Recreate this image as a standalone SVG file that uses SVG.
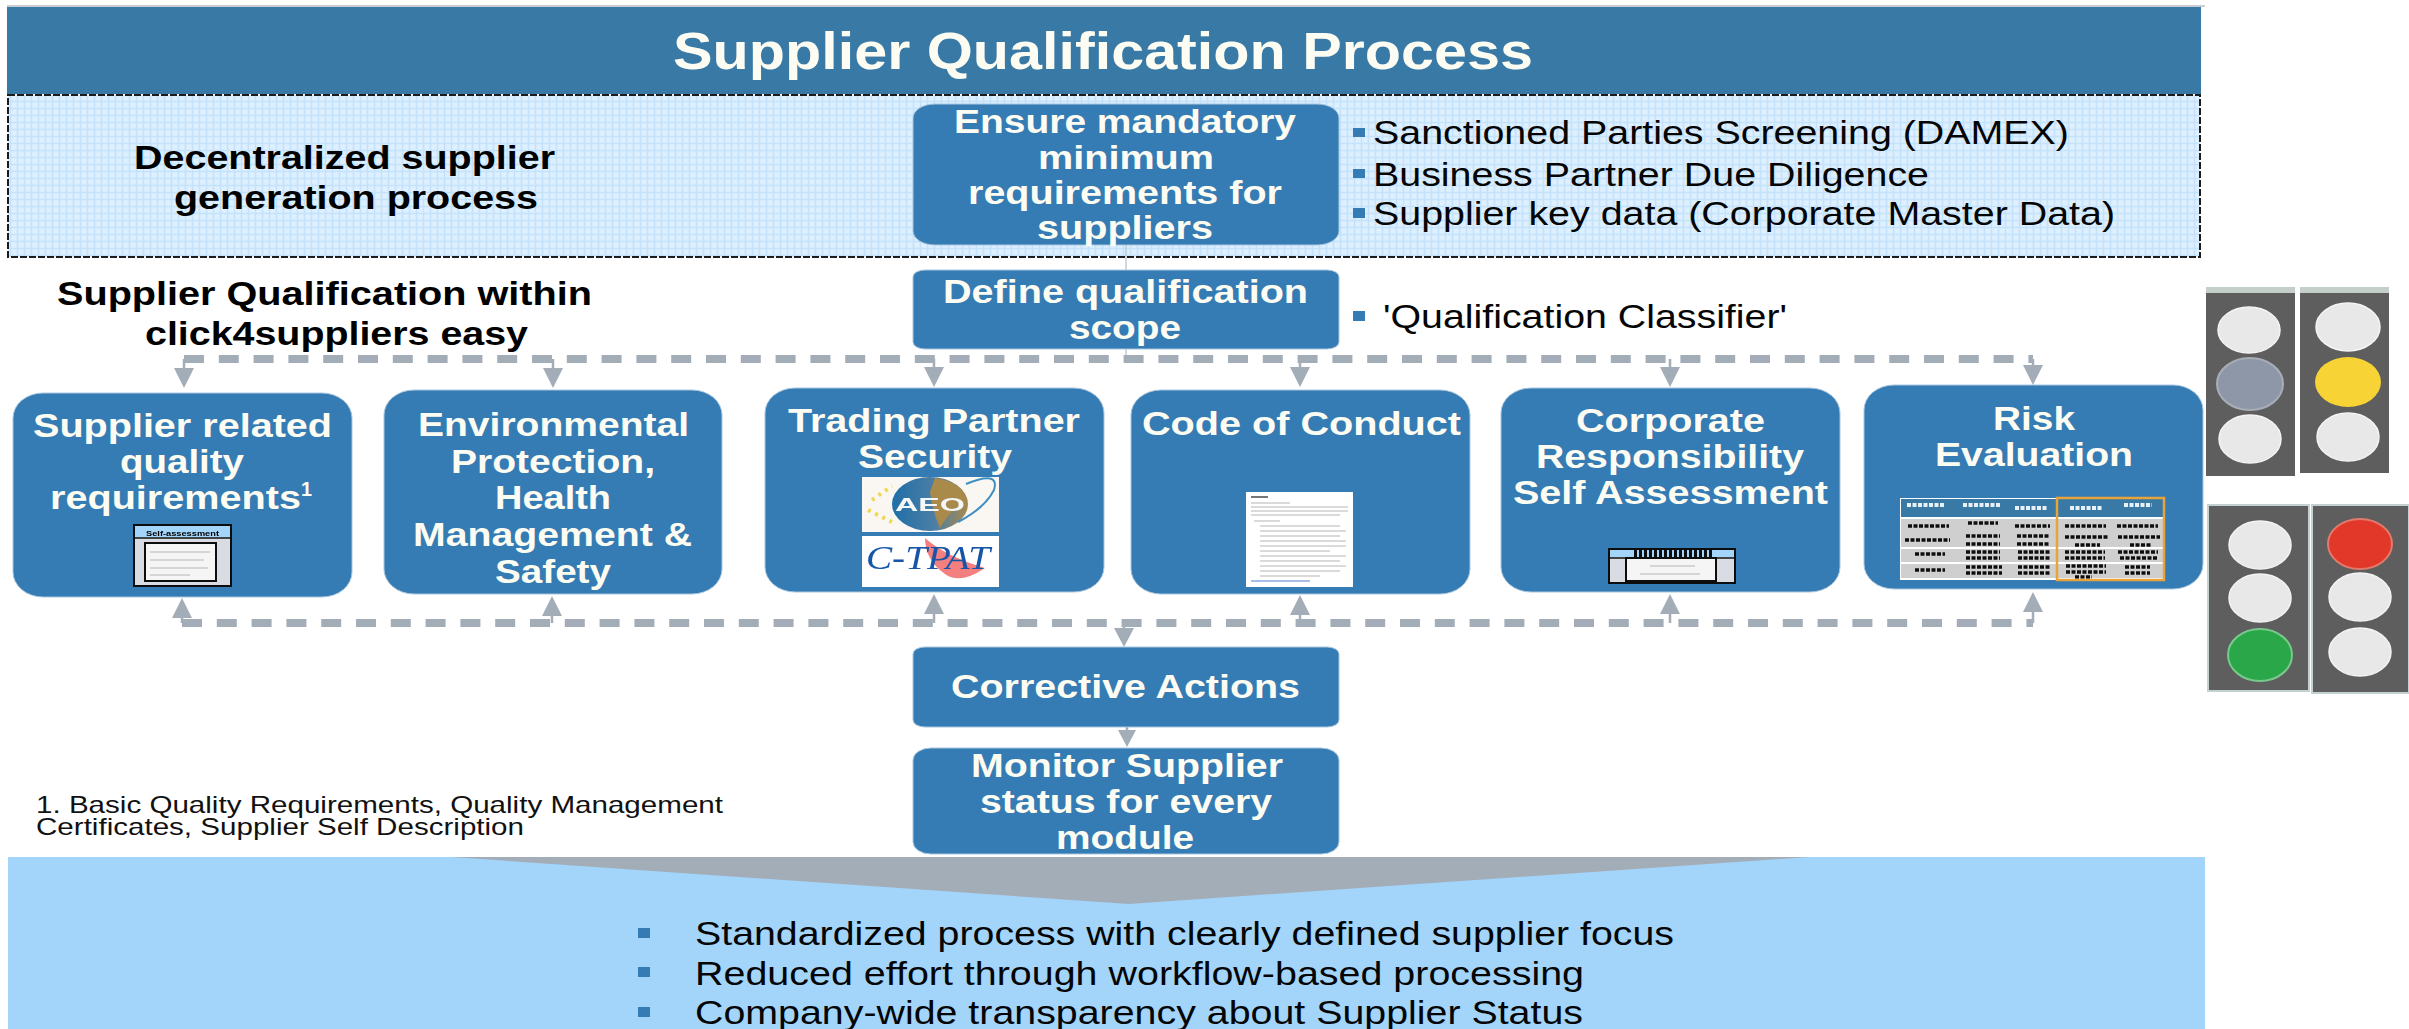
<svg xmlns="http://www.w3.org/2000/svg" width="2409" height="1029" viewBox="0 0 2409 1029">
<style>
text{font-family:"Liberation Sans",Arial,sans-serif}
.w{fill:#fdfcf2;font-weight:700;font-size:33px}
.kb{fill:#000;font-weight:700;font-size:33px}
.k{fill:#050505;font-size:33px}
.fn{fill:#111;font-size:24px}
.box{fill:#357cb5;stroke:#a9c6de;stroke-width:1}
.sq{fill:#357cb5}
.dash{fill:none;stroke:#a3adb8;stroke-width:8;stroke-dasharray:20 14.8}
.stem{fill:none;stroke:#a3adb8;stroke-width:2.5}
.head{fill:#a3adb8}
.housing{fill:#5e5e5e}
.off{fill:#e8e8e8;stroke:#f4f4f4;stroke-width:1.5}
.ink{fill:none;stroke:#111;stroke-width:3.5;stroke-dasharray:4 1.5}
.inkw{fill:none;stroke:#e8f1f7;stroke-width:4;stroke-dasharray:4 1.5}
.doc{fill:none;stroke:#b5b5b5;stroke-width:1.2}
</style>
<defs>
<pattern id="grid" width="7" height="7" patternUnits="userSpaceOnUse">
<rect width="7" height="7" fill="#def0ff"/>
<path d="M0 3.5H7M3.5 0V7" stroke="#c4e3fb" stroke-width="1.6"/>
</pattern>
<linearGradient id="globe" x1="0" y1="0" x2="1" y2="0">
<stop offset="0" stop-color="#1f6ea8"/><stop offset=".55" stop-color="#4a7ea6"/><stop offset="1" stop-color="#a98a4c"/>
</linearGradient>
<filter id="soft"><feGaussianBlur stdDeviation="0.7"/></filter>
</defs>
<rect width="2409" height="1029" fill="#fff"/>

<g id="title">
<rect x="7" y="6" width="2194" height="88" fill="#3979a6"/>
<path d="M7 6H2205" stroke="#c9ced3" stroke-width="2"/>
<text x="673" y="69" class="w" style="font-size:52px" textLength="860" lengthAdjust="spacingAndGlyphs">Supplier Qualification Process</text>
</g>

<g id="decentralized-panel">
<rect x="8" y="95" width="2192" height="162" fill="url(#grid)" stroke="#1c1c1c" stroke-width="2" stroke-dasharray="7 2"/>
<text x="134" y="169" class="kb" textLength="421" lengthAdjust="spacingAndGlyphs">Decentralized supplier</text>
<text x="174" y="209" class="kb" textLength="364" lengthAdjust="spacingAndGlyphs">generation process</text>
</g>

<g id="scope-heading">
<text x="57" y="305" class="kb" textLength="535" lengthAdjust="spacingAndGlyphs">Supplier Qualification within</text>
<text x="145" y="345" class="kb" textLength="383" lengthAdjust="spacingAndGlyphs">click4suppliers easy</text>
</g>

<g id="connectors">
<path class="stem" style="stroke-width:1.5;stroke:#c3cbd2" d="M1126 245V270M1126 349V359"/>
<path class="dash" d="M184 359H2033"/>
<path class="stem" d="M184 359V372M553 359V372M934 359V372M1300 359V372M1670 359V372M2033 359V370"/>
<path class="head" d="M174 368H194L184 388ZM543 368H563L553 388ZM924 367H944L934 387ZM1290 367H1310L1300 387ZM1660 367H1680L1670 387ZM2023 365H2043L2033 385Z"/>
<path class="dash" d="M182 623H2033"/>
<path class="stem" d="M182 623V612M552 623V612M934 623V610M1300 623V612M1670 623V610M2033 623V608"/>
<path class="head" d="M172 618H192L182 598ZM542 616H562L552 596ZM924 614H944L934 594ZM1290 615H1310L1300 595ZM1660 614H1680L1670 594ZM2023 612H2043L2033 592Z"/>
<path class="stem" d="M1124 623V632M1127 727V735"/>
<path class="head" d="M1114 628H1134L1124 647ZM1118 730H1136L1127 747Z"/>
</g>

<g id="ensure-minimum">
<rect class="box" x="913" y="104" width="426" height="141" rx="22" ry="14"/>
<text x="954" y="133" class="w" textLength="342" lengthAdjust="spacingAndGlyphs">Ensure mandatory</text>
<text x="1038" y="169" class="w" textLength="176" lengthAdjust="spacingAndGlyphs">minimum</text>
<text x="968" y="204" class="w" textLength="314" lengthAdjust="spacingAndGlyphs">requirements for</text>
<text x="1037" y="239" class="w" textLength="176" lengthAdjust="spacingAndGlyphs">suppliers</text>
</g>

<g id="minimum-list">
<rect class="sq" x="1353" y="128" width="12" height="9"/>
<rect class="sq" x="1353" y="169" width="12" height="9"/>
<rect class="sq" x="1353" y="208" width="12" height="10"/>
<text x="1373" y="144" class="k" textLength="696" lengthAdjust="spacingAndGlyphs">Sanctioned Parties Screening (DAMEX)</text>
<text x="1373" y="186" class="k" textLength="556" lengthAdjust="spacingAndGlyphs">Business Partner Due Diligence</text>
<text x="1373" y="225" class="k" textLength="742" lengthAdjust="spacingAndGlyphs">Supplier key data (Corporate Master Data)</text>
</g>

<g id="define-scope">
<rect class="box" x="913" y="270" width="426" height="79" rx="12" ry="7"/>
<text x="943" y="303" class="w" textLength="365" lengthAdjust="spacingAndGlyphs">Define qualification</text>
<text x="1069" y="339" class="w" textLength="112" lengthAdjust="spacingAndGlyphs">scope</text>
</g>

<g id="classifier">
<rect class="sq" x="1353" y="311" width="12" height="10"/>
<text x="1383" y="328" class="k" textLength="404" lengthAdjust="spacingAndGlyphs">'Qualification Classifier'</text>
</g>

<g id="module-quality">
<rect class="box" x="13" y="393" width="339" height="204" rx="30" ry="25"/>
<text x="33" y="437" class="w" textLength="299" lengthAdjust="spacingAndGlyphs">Supplier related</text>
<text x="120" y="473" class="w" textLength="124" lengthAdjust="spacingAndGlyphs">quality</text>
<text x="50" y="509" class="w" textLength="251" lengthAdjust="spacingAndGlyphs">requirements</text>
<text x="301" y="496" class="w" style="font-size:21px" textLength="11" lengthAdjust="spacingAndGlyphs">1</text>
<g filter="url(#soft)">
<rect x="134" y="525" width="97" height="61" fill="#d9dde3" stroke="#111" stroke-width="2"/>
<rect x="135" y="526" width="95" height="11" fill="#a3d5fb"/>
<path d="M134 538H231" stroke="#111" stroke-width="1.5"/>
<text x="146" y="536" style="font-size:8px;font-weight:700" textLength="73" lengthAdjust="spacingAndGlyphs">Self-assessment</text>
<rect x="145" y="543" width="71" height="38" fill="#f5f5f5" stroke="#111" stroke-width="2"/>
<path class="doc" d="M150 552H210M150 560H204M150 568H208M150 575H190"/>
</g>
</g>

<g id="module-ehs">
<rect class="box" x="384" y="390" width="338" height="204" rx="30" ry="25"/>
<text x="418" y="436" class="w" textLength="271" lengthAdjust="spacingAndGlyphs">Environmental</text>
<text x="451" y="473" class="w" textLength="204" lengthAdjust="spacingAndGlyphs">Protection,</text>
<text x="495" y="509" class="w" textLength="116" lengthAdjust="spacingAndGlyphs">Health</text>
<text x="413" y="546" class="w" textLength="279" lengthAdjust="spacingAndGlyphs">Management &amp;</text>
<text x="495" y="583" class="w" textLength="116" lengthAdjust="spacingAndGlyphs">Safety</text>
</g>

<g id="module-trading">
<rect class="box" x="765" y="388" width="339" height="204" rx="30" ry="25"/>
<text x="788" y="432" class="w" textLength="292" lengthAdjust="spacingAndGlyphs">Trading Partner</text>
<text x="858" y="468" class="w" textLength="154" lengthAdjust="spacingAndGlyphs">Security</text>
<g filter="url(#soft)">
<rect x="862" y="477" width="137" height="55" fill="#faf6f1"/>
<ellipse cx="930" cy="504" rx="38" ry="27" fill="url(#globe)"/>
<path d="M966 484Q1000 470 994 490Q985 508 958 522" fill="none" stroke="#3f8fc4" stroke-width="2"/>
<path d="M935 478Q962 482 966 500Q950 510 940 528Q932 510 930 492Z" fill="#a98a4c"/>
<path d="M872 500L892 486M868 510L892 522" stroke="#ecd94f" stroke-width="4" stroke-dasharray="3 5" fill="none"/>
<text x="895" y="511" style="font-size:19px;font-weight:700;fill:#f4f6f8" textLength="70" lengthAdjust="spacingAndGlyphs">AEO</text>
<rect x="862" y="536" width="137" height="51" fill="#fff"/>
<path d="M925 538Q945 556 985 568Q960 585 945 574Q925 560 925 538Z" fill="#f47f7f"/>
<text x="866" y="569" style="font-family:'Liberation Serif',serif;font-style:italic;font-size:34px;fill:#1655a8" textLength="124" lengthAdjust="spacingAndGlyphs">C-TPAT</text>
</g>
</g>

<g id="module-conduct">
<rect class="box" x="1131" y="390" width="339" height="204" rx="30" ry="25"/>
<text x="1142" y="435" class="w" textLength="319" lengthAdjust="spacingAndGlyphs">Code of Conduct</text>
<g filter="url(#soft)">
<rect x="1246" y="492" width="107" height="95" fill="#fff"/>
<path d="M1251 497H1268" stroke="#777" stroke-width="2"/>
<path class="doc" d="M1251 503H1290M1251 507H1348M1251 511H1348M1251 515H1340M1254 521H1280M1260 526H1340M1260 531H1346M1260 536H1340M1260 541H1346M1260 546H1346M1260 551H1330M1260 556H1346M1260 561H1340M1260 566H1346M1260 571H1340M1260 576H1320"/>
<path d="M1251 581H1310" stroke="#8aa8e0" stroke-width="1.5"/>
</g>
</g>

<g id="module-responsibility">
<rect class="box" x="1501" y="388" width="339" height="204" rx="30" ry="25"/>
<text x="1576" y="432" class="w" textLength="189" lengthAdjust="spacingAndGlyphs">Corporate</text>
<text x="1536" y="468" class="w" textLength="268" lengthAdjust="spacingAndGlyphs">Responsibility</text>
<text x="1513" y="504" class="w" textLength="315" lengthAdjust="spacingAndGlyphs">Self Assessment</text>
<g filter="url(#soft)">
<rect x="1609" y="549" width="126" height="34" fill="#d9dde3" stroke="#111" stroke-width="2"/>
<rect x="1610" y="550" width="124" height="7" fill="#a3d5fb"/>
<path d="M1634 553.500H1712" stroke="#111" stroke-width="7" stroke-dasharray="3 2"/>
<path d="M1609 558H1735" stroke="#111" stroke-width="1.5"/>
<rect x="1626" y="558" width="90" height="23" fill="#f5f5f5" stroke="#111" stroke-width="2"/>
<path class="doc" d="M1650 566H1695M1640 574H1700"/>
</g>
</g>

<g id="module-risk">
<rect class="box" x="1864" y="385" width="339" height="204" rx="30" ry="25"/>
<text x="1993" y="430" class="w" textLength="82" lengthAdjust="spacingAndGlyphs">Risk</text>
<text x="1935" y="466" class="w" textLength="198" lengthAdjust="spacingAndGlyphs">Evaluation</text>
<g filter="url(#soft)">
<rect x="1900" y="498" width="264" height="82" fill="#fff"/>
<rect x="1901" y="499" width="262" height="18" fill="#3979a6"/>
<rect x="1901" y="519" width="262" height="15" fill="#cfcfcf"/>
<rect x="1901" y="534" width="262" height="13" fill="#cfcfcf"/>
<rect x="1901" y="549" width="262" height="13" fill="#cfcfcf"/>
<rect x="1901" y="564" width="262" height="14" fill="#cfcfcf"/>
<path class="inkw" d="M1907 505H1944M1963 505H2000M2015 508H2048M2070 508H2102M2124 505H2152"/>
<path class="ink" d="M1908 526H1949M1968 523H1998M2015 526H2050M2065 526H2106M2117 526H2158M1905 540H1950M1966 536H2000M1966 544H2000M2017 536H2050M2017 544H2050M2065 537H2108M2075 545H2100M2118 537H2160M2130 545H2152M1915 554H1945M1966 552H2000M1966 558H2000M2018 552H2050M2018 558H2050M2065 552H2105M2065 558H2105M2118 552H2158M2120 558H2158M1915 570H1945M1966 567H2002M1966 573H2002M2018 567H2050M2018 573H2050M2066 566H2106M2066 572H2106M2075 577H2092M2125 567H2150M2125 573H2150"/>
<rect x="2057" y="498" width="107" height="82" fill="none" stroke="#e8a33a" stroke-width="2.5"/>
</g>
</g>

<g id="corrective-actions">
<rect class="box" x="913" y="647" width="426" height="80" rx="12" ry="7"/>
<text x="951" y="698" class="w" textLength="349" lengthAdjust="spacingAndGlyphs">Corrective Actions</text>
</g>

<g id="monitor-status">
<rect class="box" x="913" y="748" width="426" height="106" rx="18" ry="12"/>
<text x="971" y="777" class="w" textLength="312" lengthAdjust="spacingAndGlyphs">Monitor Supplier</text>
<text x="980" y="813" class="w" textLength="292" lengthAdjust="spacingAndGlyphs">status for every</text>
<text x="1056" y="849" class="w" textLength="138" lengthAdjust="spacingAndGlyphs">module</text>
</g>

<g id="footnote">
<text x="36" y="813" class="fn" textLength="687" lengthAdjust="spacingAndGlyphs">1. Basic Quality Requirements, Quality Management</text>
<text x="36" y="835" class="fn" textLength="488" lengthAdjust="spacingAndGlyphs">Certificates, Supplier Self Description</text>
</g>

<g id="benefits">
<rect x="8" y="857" width="2197" height="172" fill="#a3d5fb"/>
<path d="M451 857H1809L1129 904Z" fill="#a3adb8"/>
<rect class="sq" x="638" y="928" width="12" height="10"/>
<rect class="sq" x="638" y="967" width="12" height="10"/>
<rect class="sq" x="638" y="1007" width="12" height="10"/>
<text x="695" y="945" class="k" textLength="979" lengthAdjust="spacingAndGlyphs">Standardized process with clearly defined supplier focus</text>
<text x="695" y="985" class="k" textLength="889" lengthAdjust="spacingAndGlyphs">Reduced effort through workflow-based processing</text>
<text x="695" y="1024" class="k" textLength="888" lengthAdjust="spacingAndGlyphs">Company-wide transparency about Supplier Status</text>
</g>

<g id="traffic-light-gray">
<rect class="housing" x="2206" y="287" width="89" height="189"/>
<rect x="2206" y="287" width="89" height="6" fill="#c4cfc9"/>
<ellipse class="off" cx="2249" cy="330" rx="31" ry="23"/>
<ellipse cx="2250" cy="384" rx="33" ry="26" fill="#8d97a8" stroke="#a8aeb8" stroke-width="2"/>
<ellipse class="off" cx="2250" cy="439" rx="31" ry="24"/>
</g>
<g id="traffic-light-yellow">
<rect class="housing" x="2300" y="287" width="89" height="186"/>
<rect x="2300" y="287" width="89" height="6" fill="#c4cfc9"/>
<ellipse class="off" cx="2348" cy="327" rx="32" ry="24"/>
<ellipse cx="2348" cy="382" rx="33" ry="25" fill="#f7d336"/>
<ellipse class="off" cx="2348" cy="437" rx="31" ry="24"/>
</g>
<g id="traffic-light-green">
<rect class="housing" x="2208" y="505" width="101" height="186" stroke="#c4d0d2" stroke-width="2"/>
<ellipse class="off" cx="2260" cy="545" rx="31" ry="24"/>
<ellipse class="off" cx="2260" cy="598" rx="31" ry="24"/>
<ellipse cx="2260" cy="655" rx="32" ry="26" fill="#2aa748" stroke="#79c98c" stroke-width="2"/>
</g>
<g id="traffic-light-red">
<rect class="housing" x="2312" y="505" width="97" height="188" stroke="#c4d0d2" stroke-width="2"/>
<ellipse cx="2360" cy="544" rx="32" ry="25" fill="#e2382a" stroke="#e27a6e" stroke-width="2"/>
<ellipse class="off" cx="2360" cy="597" rx="31" ry="24"/>
<ellipse class="off" cx="2360" cy="652" rx="31" ry="24"/>
</g>
</svg>
